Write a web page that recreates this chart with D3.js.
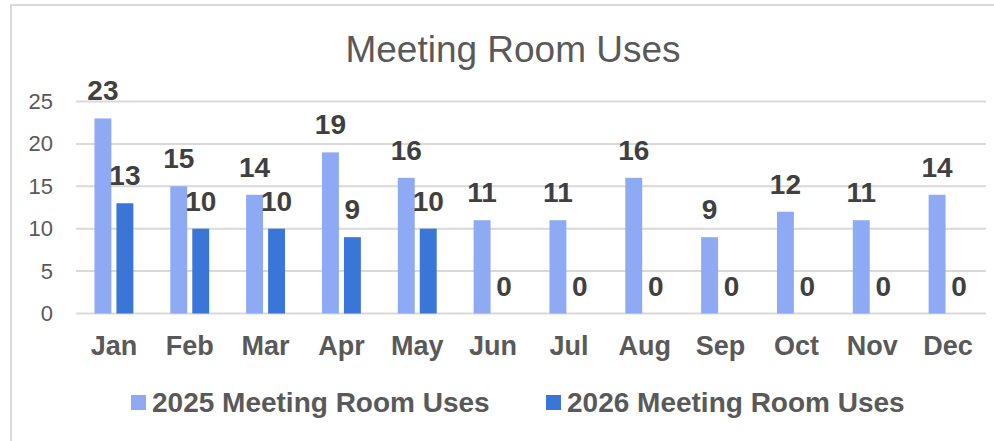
<!DOCTYPE html>
<html>
<head>
<meta charset="utf-8">
<script src="https://cdn.jsdelivr.net/npm/d3@7"></script>
<style>
  body { margin: 0; background: #fff; }
  text { font-family: "Liberation Sans", Arial, sans-serif; }
</style>
</head>
<body>
<div id="chart"></div>
<script>
const months = ["Jan", "Feb", "Mar", "Apr", "May", "Jun", "Jul", "Aug", "Sep", "Oct", "Nov", "Dec"];
const seriesNames = ["2025 Meeting Room Uses", "2026 Meeting Room Uses"];
const uses2025 = [23, 15, 14, 19, 16, 11, 11, 16, 9, 12, 11, 14];
const uses2026 = [13, 10, 10, 9, 10, 0, 0, 0, 0, 0, 0, 0];
const yTicks = [0, 5, 10, 15, 20, 25];
const colors = ["#8eaaf5", "#3a76d8"];

const width = 994, height = 441;
const margin = { top: 101.5, right: 8, bottom: 128, left: 76 };

const svg = d3.select("#chart")
    .append("svg")
    .attr("width", width)
    .attr("height", height);

// outer frame (runs off the right and bottom edge)
svg.append("rect")
    .attr("x", 11).attr("y", 5)
    .attr("width", 1000).attr("height", 500)
    .attr("fill", "none")
    .attr("stroke", "#d9d9d9")
    .attr("stroke-width", 2);

svg.append("text")
    .attr("x", 513).attr("y", 62)
    .attr("text-anchor", "middle")
    .style("font-size", "37px")
    .style("fill", "#595959")
    .text("Meeting Room Uses");

const x = d3.scaleBand()
    .domain(months)
    .range([margin.left, 986]);

const x1 = d3.scaleBand()
    .domain(seriesNames)
    .range([0, x.bandwidth()])
    .paddingInner(0.23)
    .paddingOuter(0.84);

const y = d3.scaleLinear()
    .domain([0, 25])
    .range([313.5, margin.top]);

// gridlines
svg.append("g")
    .selectAll("line")
    .data(yTicks)
    .join("line")
    .attr("x1", margin.left)
    .attr("x2", 986)
    .attr("y1", d => y(d))
    .attr("y2", d => y(d))
    .attr("stroke", "#d9d9d9")
    .attr("stroke-width", 2);

// y axis labels
const yAxis = svg.append("g")
    .attr("transform", `translate(${margin.left},0)`)
    .call(d3.axisLeft(y).tickValues(yTicks).tickSize(0).tickPadding(23));
yAxis.select(".domain").remove();
yAxis.selectAll("text")
    .style("font-size", "22px")
    .style("fill", "#595959");

// x axis labels
const xAxis = svg.append("g")
    .attr("transform", `translate(0,${y(0)})`)
    .call(d3.axisBottom(x).tickSize(0).tickPadding(22));
xAxis.select(".domain").remove();
xAxis.selectAll("text")
    .style("font-size", "27px")
    .style("font-weight", "bold")
    .style("fill", "#595959");

const rows = months.map((m, i) => ({
    month: m,
    values: [
        { key: seriesNames[0], value: uses2025[i], color: colors[0] },
        { key: seriesNames[1], value: uses2026[i], color: colors[1] }
    ]
}));

const groups = svg.append("g")
    .selectAll("g")
    .data(rows)
    .join("g")
    .attr("transform", d => `translate(${x(d.month)},0)`);

groups.selectAll("rect")
    .data(d => d.values)
    .join("rect")
    .attr("x", d => x1(d.key))
    .attr("y", d => y(d.value))
    .attr("width", x1.bandwidth())
    .attr("height", d => y(0) - y(d.value))
    .attr("fill", d => d.color);

groups.selectAll("text")
    .data(d => d.values)
    .join("text")
    .attr("x", d => x1(d.key) + x1.bandwidth() / 2)
    .attr("y", d => y(d.value) - 18)
    .attr("text-anchor", "middle")
    .style("font-size", "28px")
    .style("font-weight", "bold")
    .style("fill", "#404040")
    .text(d => d.value);

// legend
const legendPos = [131, 546];
const legend = svg.append("g")
    .selectAll("g")
    .data(seriesNames)
    .join("g")
    .attr("transform", (d, i) => `translate(${legendPos[i]},395)`);

legend.append("rect")
    .attr("width", 15)
    .attr("height", 15)
    .attr("fill", (d, i) => colors[i]);

legend.append("text")
    .attr("x", 21)
    .attr("y", 16.5)
    .style("font-size", "28px")
    .style("font-weight", "bold")
    .style("fill", "#595959")
    .text(d => d);
</script>
</body>
</html>
